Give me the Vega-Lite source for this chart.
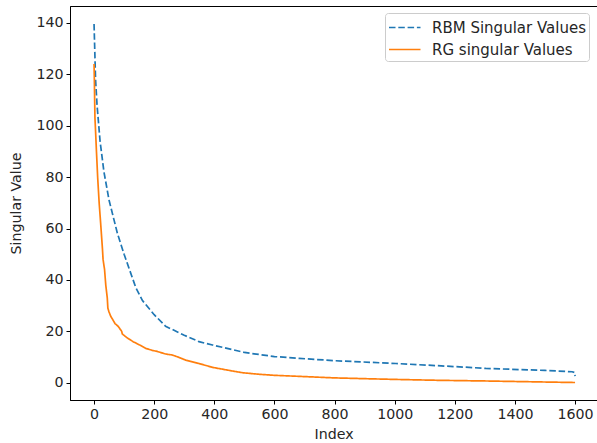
{
  "$schema": "https://vega.github.io/schema/vega-lite/v6.json",
  "width": 527,
  "height": 394,
  "autosize": "none",
  "padding": {"left": 70, "top": 6, "right": 0, "bottom": 43},
  "background": "white",
  "config": {
    "font": "DejaVu Sans",
    "view": {"stroke": "#000", "strokeWidth": 1},
    "axis": {
      "grid": false, "domainColor": "#000", "tickColor": "#000", "tickSize": 4,
      "labelFontSize": 14.2, "labelColor": "#262626", "titleFontSize": 14.2,
      "titleFontWeight": "normal", "titleColor": "#262626", "labelPadding": 3
    }
  },
  "datasets": {
    "sv": [
      {"s": "RBM Singular Values", "i": 0, "v": 139.6},
      {"s": "RBM Singular Values", "i": 5, "v": 118},
      {"s": "RBM Singular Values", "i": 10, "v": 108},
      {"s": "RBM Singular Values", "i": 20, "v": 94},
      {"s": "RBM Singular Values", "i": 33, "v": 82},
      {"s": "RBM Singular Values", "i": 50, "v": 71},
      {"s": "RBM Singular Values", "i": 78, "v": 58},
      {"s": "RBM Singular Values", "i": 100, "v": 50},
      {"s": "RBM Singular Values", "i": 139, "v": 37},
      {"s": "RBM Singular Values", "i": 161, "v": 32},
      {"s": "RBM Singular Values", "i": 200, "v": 26.5},
      {"s": "RBM Singular Values", "i": 238, "v": 22},
      {"s": "RBM Singular Values", "i": 300, "v": 18.5},
      {"s": "RBM Singular Values", "i": 349, "v": 16},
      {"s": "RBM Singular Values", "i": 394, "v": 14.7},
      {"s": "RBM Singular Values", "i": 500, "v": 11.8},
      {"s": "RBM Singular Values", "i": 600, "v": 10.2},
      {"s": "RBM Singular Values", "i": 682, "v": 9.5},
      {"s": "RBM Singular Values", "i": 800, "v": 8.6},
      {"s": "RBM Singular Values", "i": 1004, "v": 7.5},
      {"s": "RBM Singular Values", "i": 1200, "v": 6.3},
      {"s": "RBM Singular Values", "i": 1303, "v": 5.6},
      {"s": "RBM Singular Values", "i": 1500, "v": 4.8},
      {"s": "RBM Singular Values", "i": 1590, "v": 4.3},
      {"s": "RBM Singular Values", "i": 1599, "v": 4.0},
      {"s": "RBM Singular Values", "i": 1600, "v": 2.6},
      {"s": "RG singular Values", "i": 0, "v": 124},
      {"s": "RG singular Values", "i": 1, "v": 118},
      {"s": "RG singular Values", "i": 2, "v": 110},
      {"s": "RG singular Values", "i": 3, "v": 103},
      {"s": "RG singular Values", "i": 5, "v": 98},
      {"s": "RG singular Values", "i": 8, "v": 90},
      {"s": "RG singular Values", "i": 12, "v": 80},
      {"s": "RG singular Values", "i": 17, "v": 70},
      {"s": "RG singular Values", "i": 22, "v": 62},
      {"s": "RG singular Values", "i": 28, "v": 52},
      {"s": "RG singular Values", "i": 30, "v": 48},
      {"s": "RG singular Values", "i": 35, "v": 44},
      {"s": "RG singular Values", "i": 39, "v": 38},
      {"s": "RG singular Values", "i": 44, "v": 33},
      {"s": "RG singular Values", "i": 46, "v": 29},
      {"s": "RG singular Values", "i": 50, "v": 27.5},
      {"s": "RG singular Values", "i": 55, "v": 26},
      {"s": "RG singular Values", "i": 60, "v": 25},
      {"s": "RG singular Values", "i": 65, "v": 24},
      {"s": "RG singular Values", "i": 70, "v": 23},
      {"s": "RG singular Values", "i": 80, "v": 22},
      {"s": "RG singular Values", "i": 89, "v": 20.5},
      {"s": "RG singular Values", "i": 92, "v": 20},
      {"s": "RG singular Values", "i": 94, "v": 19},
      {"s": "RG singular Values", "i": 110, "v": 17.5},
      {"s": "RG singular Values", "i": 130, "v": 16},
      {"s": "RG singular Values", "i": 150, "v": 14.8},
      {"s": "RG singular Values", "i": 172, "v": 13.4},
      {"s": "RG singular Values", "i": 194, "v": 12.6},
      {"s": "RG singular Values", "i": 210, "v": 12.2},
      {"s": "RG singular Values", "i": 238, "v": 11.2},
      {"s": "RG singular Values", "i": 260, "v": 10.8},
      {"s": "RG singular Values", "i": 280, "v": 10},
      {"s": "RG singular Values", "i": 305, "v": 8.8},
      {"s": "RG singular Values", "i": 349, "v": 7.5},
      {"s": "RG singular Values", "i": 394, "v": 6.0},
      {"s": "RG singular Values", "i": 450, "v": 4.8},
      {"s": "RG singular Values", "i": 494, "v": 3.9},
      {"s": "RG singular Values", "i": 550, "v": 3.3},
      {"s": "RG singular Values", "i": 600, "v": 2.9},
      {"s": "RG singular Values", "i": 682, "v": 2.5},
      {"s": "RG singular Values", "i": 800, "v": 1.9},
      {"s": "RG singular Values", "i": 900, "v": 1.6},
      {"s": "RG singular Values", "i": 1004, "v": 1.3},
      {"s": "RG singular Values", "i": 1150, "v": 0.95},
      {"s": "RG singular Values", "i": 1303, "v": 0.7},
      {"s": "RG singular Values", "i": 1450, "v": 0.4},
      {"s": "RG singular Values", "i": 1600, "v": 0.1}
    ]
  },
  "data": {"name": "sv"},
  "mark": {"type": "line", "strokeWidth": 1.7, "clip": true},
  "encoding": {
    "x": {
      "field": "i", "type": "quantitative", "title": "Index",
      "scale": {"domain": [-80, 1673], "nice": false, "zero": false},
      "axis": {"values": [0, 200, 400, 600, 800, 1000, 1200, 1400, 1600], "format": "d", "titlePadding": 6}
    },
    "y": {
      "field": "v", "type": "quantitative", "title": "Singular Value",
      "scale": {"domain": [-6.7, 146.6], "nice": false, "zero": false},
      "axis": {"values": [0, 20, 40, 60, 80, 100, 120, 140], "titlePadding": 12}
    },
    "color": {
      "field": "s", "type": "nominal",
      "scale": {"domain": ["RBM Singular Values", "RG singular Values"], "range": ["#1f77b4", "#ff7f0e"]},
      "legend": {
        "title": null, "orient": "none", "legendX": 315, "legendY": 7,
        "symbolType": "M-1,0H2", "symbolSize": 441, "symbolStrokeWidth": 1.7,
        "symbolFillColor": "transparent",
        "labelFontSize": 15, "labelColor": "#262626", "labelOffset": 21,
        "fillColor": "white", "strokeColor": "#cccccc", "cornerRadius": 3,
        "padding": 3, "rowPadding": 2
      }
    },
    "strokeDash": {
      "field": "s", "type": "nominal",
      "scale": {"domain": ["RBM Singular Values", "RG singular Values"], "range": [[6.5, 2.8], [1, 0]]},
      "legend": null
    },
    "order": {"field": "i", "type": "quantitative"}
  }
}
